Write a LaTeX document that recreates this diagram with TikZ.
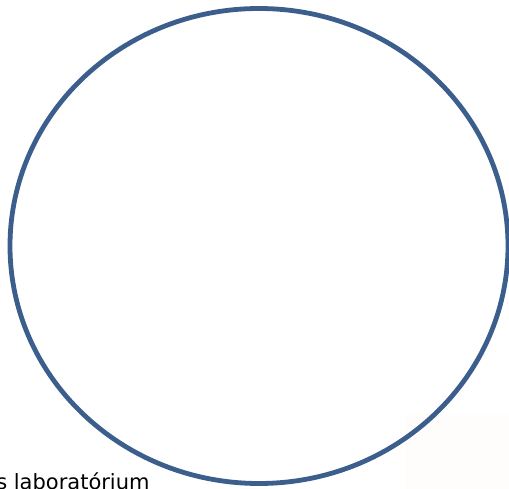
\documentclass[tikz,border=0pt]{standalone}
\usepackage{fontspec}
\newfontfamily\labfont{DejaVu Sans}
\definecolor{ringblue}{RGB}{59,94,140}
\definecolor{paper}{RGB}{254,253,252}

\begin{document}
\begin{tikzpicture}[x=1pt,y=-1pt,line width=4.8pt]
\path[use as bounding box] (0,0) rectangle (509,489);
\clip (0,0) rectangle (509,489);
\fill[paper] (405,415) rectangle (509,489);
\draw[ringblue] (259,246) ellipse [x radius=249,y radius=237.5];
\node[anchor=base east,inner sep=0pt,font=\labfont\fontsize{21}{25}\selectfont] (lab) at (152,489) {s laboratórium};
\end{tikzpicture}
\end{document}
